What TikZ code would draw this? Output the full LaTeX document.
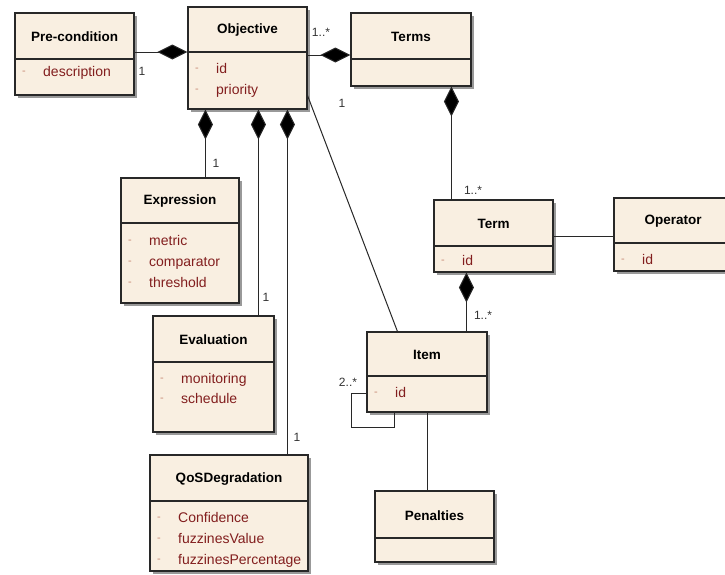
\documentclass[tikz,border=0pt]{standalone}
\usepackage{fontspec}
\setmainfont{Liberation Sans}
\usetikzlibrary{arrows.meta,calc,shadows}
\definecolor{boxfill}{RGB}{249,239,225}
\definecolor{attrred}{RGB}{130,30,30}
\definecolor{dashcol}{RGB}{200,140,120}
\definecolor{edgecol}{RGB}{40,40,40}
\newcommand\umlbox[7]{%
  \node[clsbox, minimum width={(#4-#2)*1pt}, minimum height={(#5-#3)*1pt}] (#1) at ({(#2+#4)/2},{(#3+#5)/2}) {};
  \draw[divline] (#2,#6) -- (#4,#6);
  \node[ttl] (#1-title) at ({(#2+#4)/2},{(#3+#6)/2+1}) {#7};
}
\newcommand\umlattr[4]{%
  \node[adash] (#1-d) at ({#2+9},#3) {-};
  \node[atxt] (#1) at ({#2+28},#3) {#4};
}
\begin{document}
\begin{tikzpicture}[x=1pt,y=-1pt,
  clsbox/.style={draw=edgecol, line width=1.1pt, fill=boxfill, inner sep=0pt, rectangle,
    drop shadow={shadow xshift=3pt,shadow yshift=-3pt,fill=black!40,opacity=1}},
  divline/.style={draw=edgecol, line width=1.1pt},
  ttl/.style={font=\fontsize{13.5}{15}\selectfont\bfseries, inner sep=0pt, anchor=center},
  atxt/.style={font=\fontsize{14}{16}\selectfont, text=attrred, anchor=west, inner sep=0pt, text height=10pt, text depth=3pt},
  adash/.style={font=\fontsize{11}{13}\selectfont, text=dashcol, anchor=center, inner sep=0pt},
  comp/.style={draw=edgecol, line width=1pt, -{Diamond[length=30pt,width=15pt,fill=black]}},
  assoc/.style={draw=edgecol, line width=1pt},
  mult/.style={font=\fontsize{12}{14}\selectfont, inner sep=0pt, text=black!80},
]
\fill[white] (0,0) rectangle (725,574);
\useasboundingbox (0,0) rectangle (725,574);

\umlbox{pre}{15}{13}{134}{95}{59}{Pre-condition}
\umlattr{pre-a1}{15}{73}{description}

\umlbox{obj}{188}{7}{307}{109}{52}{Objective}
\umlattr{obj-a1}{188}{70}{id}
\umlattr{obj-a2}{188}{91}{priority}

\umlbox{terms}{351}{13}{471}{86}{59}{Terms}

\umlbox{expr}{121}{178}{239}{303}{223}{Expression}
\umlattr{expr-a1}{121}{242}{metric}
\umlattr{expr-a2}{121}{263}{comparator}
\umlattr{expr-a3}{121}{284}{threshold}

\umlbox{term}{434}{200}{553}{272}{246}{Term}
\umlattr{term-a1}{434}{262}{id}

\umlbox{oper}{614}{198}{732}{271}{243}{Operator}
\umlattr{oper-a1}{614}{261}{id}

\umlbox{item}{367}{332}{487}{412}{376}{Item}
\umlattr{item-a1}{367}{394}{id}

\umlbox{eval}{153}{316}{274}{432}{362}{Evaluation}
\umlattr{eval-a1}{153}{380}{monitoring}
\umlattr{eval-a2}{153}{400}{schedule}

\umlbox{qos}{150}{455}{308}{571}{501}{QoSDegradation}
\umlattr{qos-a1}{150}{519}{Confidence}
\umlattr{qos-a2}{150}{540}{fuzzinesValue}
\umlattr{qos-a3}{150}{561}{fuzzinesPercentage}

\umlbox{pen}{375}{491}{494}{562}{538}{Penalties}

% connectors
\draw[comp] ($(pre.east)+(0,-2)$) -- (obj.west |- 0,52);
\node[mult] (m1) at (142,71) {1};

\draw[comp] ($(obj.east)+(0,-3)$) -- (terms.west |- 0,55);
\node[mult] (m2) at (321,32) {1..*};
\node[mult] (m3) at (342,103) {1};

\draw[assoc] ($(obj.south east)+(0,-14)$) -- ($(item.north west)+(31,0)$);

\coordinate (c1) at ($(term.north west)+(18,0)$);
\draw[comp] (c1) -- (c1 |- terms.south);
\node[mult] (m4) at (473,190) {1..*};

\draw[assoc] (term.east) -- (oper.west |- term.east);

\coordinate (c2) at ($(item.north west)+(100,0)$);
\draw[comp] (c2) -- (c2 |- term.south);
\node[mult] (m5) at (483,315) {1..*};

\coordinate (c3) at ($(expr.north west)+(85,0)$);
\draw[comp] (c3) -- (c3 |- obj.south);
\node[mult] (m6) at (216,163) {1};

\coordinate (c4) at ($(eval.north west)+(106,0)$);
\draw[comp] (c4) -- (c4 |- obj.south);
\node[mult] (m7) at (266,297) {1};

\coordinate (c5) at ($(qos.north west)+(138,0)$);
\draw[comp] (c5) -- (c5 |- obj.south);
\node[mult] (m8) at (297,437) {1};

\draw[assoc] ($(item.west)+(0,21)$) -- ++(-15,0) -- ++(0,34) -| ($(item.south west)+(28,0)$);
\node[mult] (m9) at (348,382) {2..*};

\coordinate (c6) at ($(item.south west)+(61,0)$);
\draw[assoc] (c6) -- (c6 |- pen.north);
\end{tikzpicture}
\end{document}
